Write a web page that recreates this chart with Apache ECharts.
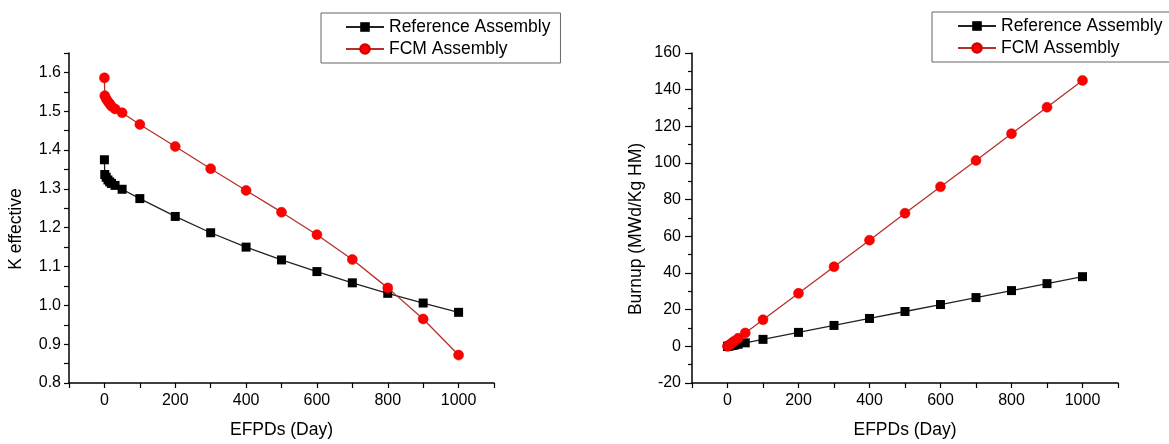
<!DOCTYPE html>
<html>
<head>
<meta charset="utf-8">
<script src="https://cdn.jsdelivr.net/npm/echarts@6/dist/echarts.min.js"></script>
<style>
  html, body { margin: 0; padding: 0; background: #fff; }
  #chart { width: 1169px; height: 444px; }
</style>
</head>
<body>
<div id="chart"></div>
<script>
// ---- data ----
const efpd = [0, 1, 5, 10, 15, 20, 30, 50, 100, 200, 300, 400, 500, 600, 700, 800, 900, 1000];
const keffReference = [1.375, 1.337, 1.330, 1.323, 1.318, 1.314, 1.309, 1.299, 1.275, 1.229, 1.187, 1.150, 1.117, 1.087, 1.058, 1.031, 1.006, 0.982];
const keffFCM = [1.586, 1.540, 1.532, 1.525, 1.519, 1.513, 1.506, 1.496, 1.466, 1.409, 1.352, 1.296, 1.240, 1.182, 1.118, 1.045, 0.965, 0.872];
const burnupReference = [0, 0.04, 0.19, 0.38, 0.57, 0.76, 1.14, 1.9, 3.8, 7.6, 11.4, 15.2, 19.0, 22.8, 26.6, 30.4, 34.2, 38.0];
const burnupFCM = [0, 0.15, 0.72, 1.45, 2.2, 2.9, 4.4, 7.3, 14.5, 28.9, 43.4, 57.9, 72.6, 87.0, 101.4, 116.0, 130.4, 145.0];
const seriesNames = ['Reference Assembly', 'FCM Assembly'];
const xTitle = 'EFPDs (Day)';
const yTitleLeft = 'K effective';
const yTitleRight = 'Burnup (MWd/Kg HM)';

const pairs = (xs, ys) => xs.map((x, i) => [x, ys[i]]);
const FONT = 'Liberation Sans, Arial, sans-serif';
const axisLineStyle = { color: '#000', width: 1.5 };

function xAxis(gridIndex) {
  return {
    type: 'value', gridIndex, min: -100, max: 1100, interval: 100,
    name: xTitle, nameLocation: 'middle', nameGap: 38,
    nameTextStyle: { fontFamily: FONT, fontSize: 17.5, color: '#000' },
    axisLine: { show: true, onZero: false, lineStyle: axisLineStyle },
    axisTick: { show: true, inside: false, length: 5, lineStyle: { color: '#000', width: 1.2 } },
    axisLabel: {
      fontFamily: FONT, fontSize: 16, color: '#000', margin: 10,
      formatter: v => (Math.round(v) % 200 === 0 && v >= 0 && v <= 1000) ? String(Math.round(v)) : ''
    },
    splitLine: { show: false }
  };
}

const chart = echarts.init(document.getElementById('chart'), null, { renderer: 'canvas' });
const option = {
  backgroundColor: '#fff',
  animation: false,
  textStyle: { fontFamily: FONT },
  grid: [
    { left: 69, top: 53, width: 425, height: 338 },
    { left: 692, top: 53, width: 426, height: 338 }
  ],
  legend: [
    {
      data: seriesNames, orient: 'vertical', left: 321, top: 13,
      itemWidth: 38, itemHeight: 12, itemGap: 4,
      padding: [5, 10, 5, 24], borderColor: '#666', borderWidth: 1,
      textStyle: { fontFamily: FONT, fontSize: 17.5, color: '#000' }
    },
    {
      data: seriesNames, orient: 'vertical', left: 932, top: 12,
      itemWidth: 38, itemHeight: 12, itemGap: 4,
      padding: [5, 14, 5, 25], borderColor: '#666', borderWidth: 1,
      textStyle: { fontFamily: FONT, fontSize: 17.5, color: '#000' }
    }
  ],
  xAxis: [xAxis(0), xAxis(1)],
  yAxis: [
    {
      type: 'value', gridIndex: 0, min: 0.8, max: 1.65, interval: 0.05,
      name: yTitleLeft, nameLocation: 'middle', nameGap: 44, nameRotate: 90,
      nameTextStyle: { fontFamily: FONT, fontSize: 17.5, color: '#000', padding: [0, 22, 0, 0] },
      axisLine: { show: true, onZero: false, lineStyle: axisLineStyle },
      axisTick: { show: true, inside: false, length: 5, lineStyle: { color: '#000', width: 1.2 } },
      axisLabel: {
        fontFamily: FONT, fontSize: 16, color: '#000', margin: 8,
        formatter: v => (Math.round(v * 100) % 10 === 0) ? v.toFixed(1) : ''
      },
      splitLine: { show: false }
    },
    {
      type: 'value', gridIndex: 1, min: -20, max: 160, interval: 20,
      name: yTitleRight, nameLocation: 'middle', nameGap: 47, nameRotate: 90,
      nameTextStyle: { fontFamily: FONT, fontSize: 17.5, color: '#000', padding: [0, 22, 0, 0] },
      axisLine: { show: true, onZero: false, lineStyle: axisLineStyle },
      axisTick: { show: true, inside: false, length: 7, lineStyle: { color: '#000', width: 1.2 } },
      minorTick: { show: true, splitNumber: 2, length: 4, lineStyle: { color: '#000', width: 1.2 } },
      axisLabel: { fontFamily: FONT, fontSize: 16, color: '#000', margin: 11 },
      splitLine: { show: false },
      minorSplitLine: { show: false }
    }
  ],
  series: [
    {
      name: seriesNames[0], type: 'line', xAxisIndex: 0, yAxisIndex: 0,
      data: pairs(efpd, keffReference),
      symbol: 'rect', symbolSize: 9,
      lineStyle: { color: '#222', width: 1.3 },
      itemStyle: { color: '#000', borderColor: '#000', borderWidth: 0 },
      z: 2
    },
    {
      name: seriesNames[1], type: 'line', xAxisIndex: 0, yAxisIndex: 0,
      data: pairs(efpd, keffFCM),
      symbol: 'circle', symbolSize: 10,
      lineStyle: { color: '#b5302a', width: 1.3 },
      itemStyle: { color: '#ff0000', borderColor: '#d00000', borderWidth: 0.5 },
      z: 3
    },
    {
      name: seriesNames[0], type: 'line', xAxisIndex: 1, yAxisIndex: 1,
      data: pairs(efpd, burnupReference),
      symbol: 'rect', symbolSize: 9,
      lineStyle: { color: '#222', width: 1.3 },
      itemStyle: { color: '#000', borderColor: '#000', borderWidth: 0 },
      z: 2
    },
    {
      name: seriesNames[1], type: 'line', xAxisIndex: 1, yAxisIndex: 1,
      data: pairs(efpd, burnupFCM),
      symbol: 'circle', symbolSize: 10,
      lineStyle: { color: '#b5302a', width: 1.3 },
      itemStyle: { color: '#ff0000', borderColor: '#d00000', borderWidth: 0.5 },
      z: 3
    }
  ]
};
chart.setOption(option);
</script>
</body>
</html>
